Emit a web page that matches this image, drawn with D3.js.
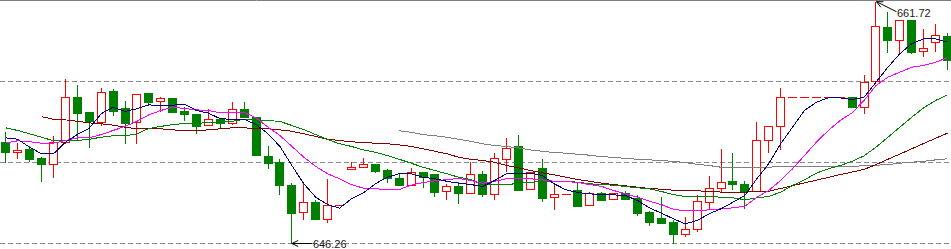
<!DOCTYPE html>
<html>
<head>
<meta charset="utf-8">
<script src="https://cdn.jsdelivr.net/npm/d3@7/dist/d3.min.js"></script>
<style>
  html, body { margin: 0; padding: 0; background: #fff; }
  svg { display: block; }
  .lbl { font-family: "Liberation Sans", Arial, sans-serif; font-size: 11px; fill: #1a1a1a; }
</style>
</head>
<body>
<svg id="chart" width="951" height="249"></svg>
<script>
// candle values (one entry per bar, left to right)
const opens = [652.74,652.08,652.29,651.74,651.32,652.72,655.62,654.66,654.04,656.01,
  654.90,654.00,655.88,655.35,655.56,654.73,654.53,653.81,654.19,653.94,
  654.83,654.32,651.85,651.44,649.99,648.28,648.88,647.80,648.69,651.00,
  651.12,651.32,650.95,650.44,650.01,650.80,650.70,649.59,649.93,649.46,
  650.70,649.43,651.64,652.49,649.72,651.08,649.20,649.40,649.67,648.69,
  649.48,649.08,649.46,649.16,648.24,647.88,647.60,646.87,647.16,648.92,
  649.78,650.25,650.05,649.63,652.85,653.75,655.60,655.60,655.60,655.60,
  655.60,655.60,654.96,656.66,660.10,659.25,660.53,658.55,659.12,659.53];
const highs = [653.38,652.66,652.47,651.80,653.13,656.77,656.39,654.66,656.20,656.13,
  655.35,655.79,655.88,655.62,655.56,654.98,654.53,654.85,654.19,655.28,
  655.28,654.32,652.47,651.65,650.14,650.10,649.03,650.36,648.69,651.46,
  651.72,651.32,651.03,650.70,651.08,650.80,650.70,650.05,650.16,651.44,
  650.89,652.02,653.00,653.19,650.84,651.65,650.05,649.40,650.10,649.54,
  649.54,649.46,649.61,649.33,648.35,649.22,647.77,647.92,649.35,650.57,
  652.29,652.04,650.25,654.02,653.75,656.22,655.60,655.60,655.60,655.60,
  655.60,655.60,657.01,661.72,661.06,660.53,660.53,659.97,660.27,659.74];
const lows = [651.46,651.74,651.55,650.27,650.52,652.66,652.87,652.44,653.85,654.47,
  652.70,652.66,655.17,654.75,654.68,654.15,653.30,653.81,653.66,653.87,
  654.32,651.93,651.06,649.43,646.26,647.83,647.83,647.64,648.69,651.00,
  651.12,650.82,650.20,650.01,650.01,649.84,649.31,649.08,648.82,649.46,
  649.31,649.11,650.87,649.69,649.72,648.99,648.47,649.40,648.67,648.69,
  649.05,649.08,649.11,648.09,647.45,647.56,646.30,646.73,647.07,648.54,
  649.63,649.75,648.50,649.63,652.12,652.28,655.60,655.60,655.60,655.60,
  655.60,654.96,654.62,656.66,658.48,658.52,658.46,658.23,658.58,657.43];
const closes = [652.12,652.23,651.67,651.35,652.72,655.60,654.62,654.09,655.92,654.75,
  653.98,655.79,655.32,655.54,654.68,654.55,653.79,654.19,653.94,654.83,
  654.32,651.93,651.38,650.01,648.22,648.88,647.83,648.69,648.69,651.14,
  651.32,650.91,650.42,650.01,650.80,650.48,649.56,649.91,649.46,650.68,
  649.43,651.70,652.34,649.69,650.84,649.18,649.40,649.40,648.67,649.46,
  649.05,649.46,649.11,648.22,647.62,647.56,646.87,647.16,648.95,649.78,
  650.16,650.07,649.63,652.85,653.75,655.60,655.60,655.60,655.60,655.60,
  655.60,654.96,656.56,660.15,659.29,660.53,658.52,658.74,659.59,658.01];

// moving average lines (null = not drawn)
const maNavy = [653.04,652.95,652.44,652.02,652.02,652.76,653.25,653.66,654.58,655.00,
  654.73,654.90,655.15,655.11,655.13,655.19,654.79,654.62,654.26,654.23,
  654.23,653.89,653.30,652.49,651.27,650.10,649.24,648.77,648.54,649.14,
  649.52,650.10,650.52,650.74,650.74,650.52,650.42,650.26,650.14,650.05,
  649.93,650.31,650.74,650.74,650.78,650.63,650.10,649.71,649.54,649.46,
  649.39,649.39,649.35,649.03,648.56,648.22,647.86,647.54,647.75,648.18,
  648.50,648.92,649.35,650.42,651.38,652.66,653.72,654.79,655.32,655.60,
  655.60,655.49,655.64,656.60,657.56,658.42,659.06,659.38,659.38,659.16];
const maMagenta = [652.72,652.85,652.79,652.70,652.70,652.87,653.04,653.04,653.25,653.51,
  653.77,654.10,654.51,654.79,655.00,654.92,654.83,654.79,654.64,654.66,
  654.66,654.32,653.72,653.19,652.49,651.80,651.21,650.74,650.42,650.05,
  649.82,649.78,649.73,649.73,650.01,650.18,650.29,650.37,650.44,650.31,
  650.14,650.26,650.42,650.42,650.42,650.35,650.26,650.25,650.18,650.05,
  649.93,649.67,649.46,649.24,648.98,648.77,648.47,648.37,648.39,648.43,
  648.50,648.56,648.66,649.24,649.67,650.31,651.06,651.91,652.76,653.51,
  654.15,654.64,655.43,656.39,656.92,657.24,657.56,657.67,657.88,658.16];
const maGreen = [653.68,653.51,653.30,653.08,652.85,652.85,652.87,652.95,653.08,653.17,
  653.17,653.30,653.64,653.77,653.89,653.96,653.96,654.02,654.02,654.10,
  654.23,654.19,654.15,654.09,653.83,653.57,653.25,652.93,652.66,652.49,
  652.27,652.12,651.91,651.67,651.42,651.16,650.95,650.74,650.52,650.37,
  650.05,650.03,650.03,650.14,650.18,650.26,650.26,650.26,650.20,650.10,
  650.05,650.01,649.93,649.84,649.78,649.61,649.41,649.29,649.29,649.29,
  649.24,649.20,649.07,649.20,649.29,649.56,649.99,650.35,650.78,651.06,
  651.27,651.54,651.89,652.44,653.08,653.72,654.36,654.96,655.43,655.79];
const maMaroon = [null,null,null,654.39,654.23,654.19,654.10,654.00,653.94,653.85,
  653.72,653.62,653.64,653.62,653.55,653.51,653.51,653.55,653.62,653.68,
  653.68,653.64,653.62,653.55,653.46,653.30,653.13,652.95,652.87,652.79,
  652.74,652.70,652.66,652.59,652.49,652.34,652.18,652.02,651.80,651.67,
  651.59,651.48,651.27,651.12,650.95,650.80,650.67,650.52,650.37,650.26,
  650.14,650.05,649.97,649.88,649.80,649.75,649.69,649.65,649.65,649.61,
  649.57,649.52,649.56,649.62,649.62,649.80,649.98,650.16,650.33,650.51,
  650.69,650.85,651.02,651.33,651.67,652.00,652.34,652.68,653.01,653.34];
const maGray = [null,null,null,null,null,null,null,null,null,null,
  null,null,null,null,null,null,null,null,null,null,
  null,null,null,null,null,null,null,null,null,null,
  null,null,null,653.49,653.40,653.25,653.17,653.08,652.95,652.82,
  652.66,652.55,652.49,652.40,652.27,652.18,652.10,652.06,651.99,651.93,
  651.83,651.80,651.72,651.67,651.63,651.59,651.53,651.46,651.35,651.27,
  651.16,651.16,651.16,651.16,651.16,651.21,651.21,651.21,651.21,651.21,
  651.22,651.22,651.25,651.29,651.33,651.42,651.48,651.54,651.63,651.70];

// horizontal dotted grid levels
const gridLevels = [656.62, 651.44, 646.26];
// price labels: bar index, price
const highMark = {i: 73, v: 661.72};
const lowMark = {i: 24, v: 646.26};

const W = 951, H = 249;
const svg = d3.select("#chart");

const x = d3.scalePoint()
    .domain(d3.range(opens.length))
    .range([5.3, 947]);
const y = d3.scaleLinear()
    .domain([646.26, 661.72])
    .range([243.3, 1.7]);

const px = v => Math.round(x(v));
const py = v => Math.round(y(v));

// grid
svg.append("g")
    .selectAll("line")
    .data(gridLevels)
    .join("line")
    .attr("x1", 0).attr("x2", W)
    .attr("y1", d => py(d) + 0.5).attr("y2", d => py(d) + 0.5)
    .attr("stroke", "#888")
    .attr("stroke-dasharray", "5,3");

svg.append("line")
    .attr("x1", 0).attr("x2", W)
    .attr("y1", 0.5).attr("y2", 0.5)
    .attr("stroke", "#808080");

// candles
const bars = d3.range(opens.length).map(i => ({
    i, o: opens[i], h: highs[i], l: lows[i], c: closes[i]
}));

const candle = svg.append("g")
    .selectAll("g")
    .data(bars)
    .join("g")
    .attr("shape-rendering", "crispEdges");

candle.each(function(d) {
    const g = d3.select(this);
    const cx = px(d.i);
    const up = d.c >= d.o;
    const col = up ? "#ff0000" : "#008000";
    const top = py(Math.max(d.o, d.c));
    const bot = py(Math.min(d.o, d.c));

    if (d.h === d.l) {
        // no range at all -> flat dash
        g.append("line")
            .attr("x1", cx - 4).attr("x2", cx + 5)
            .attr("y1", top + 0.5).attr("y2", top + 0.5)
            .attr("stroke", col);
        return;
    }
    g.append("line")
        .attr("x1", cx + 0.5).attr("x2", cx + 0.5)
        .attr("y1", py(d.h)).attr("y2", py(d.l) + 1)
        .attr("stroke", col);
    if (up) {
        g.append("rect")
            .attr("x", cx - 3.5).attr("y", top + 0.5)
            .attr("width", 8).attr("height", Math.max(bot - top, 1))
            .attr("fill", "#fff")
            .attr("stroke", col);
    } else {
        g.append("rect")
            .attr("x", cx - 4).attr("y", top)
            .attr("width", 9).attr("height", Math.max(bot - top + 1, 1))
            .attr("fill", col);
    }
});

// moving averages
const maLines = [
    {vals: maGray, color: "#808080"},
    {vals: maMaroon, color: "#800000"},
    {vals: maGreen, color: "#008000"},
    {vals: maMagenta, color: "#ff00ff"},
    {vals: maNavy, color: "#000080"}
];

const line = d3.line()
    .defined(d => d.v !== null)
    .x(d => x(d.i) + 0.5)
    .y(d => y(d.v) + 0.5);

svg.append("g")
    .attr("shape-rendering", "crispEdges")
    .selectAll("path")
    .data(maLines)
    .join("path")
    .attr("d", d => line(d.vals.map((v, i) => ({i, v}))))
    .attr("fill", "none")
    .attr("stroke", d => d.color)
    .attr("stroke-width", 1);

// price markers with arrows
function arrowHead(g, tx, ty, fx, fy) {
    const a = Math.atan2(fy - ty, fx - tx);
    const len = 7, spread = 0.45;
    [a - spread, a + spread].forEach(b => {
        g.append("line")
            .attr("x1", tx).attr("y1", ty)
            .attr("x2", tx + len * Math.cos(b)).attr("y2", ty + len * Math.sin(b))
            .attr("stroke", "#000");
    });
}

const marks = svg.append("g");

// high
{
    const tx = x(highMark.i) + 1, ty = y(highMark.v);
    const ex = tx + 20, ey = ty + 10;
    marks.append("line")
        .attr("x1", tx).attr("y1", ty).attr("x2", ex).attr("y2", ey)
        .attr("stroke", "#000");
    arrowHead(marks, tx, ty, ex, ey);
    marks.append("text")
        .attr("class", "lbl")
        .attr("x", ex + 0.5).attr("y", ey + 5)
        .text(highMark.v.toFixed(2));
}
// low
{
    const tx = x(lowMark.i) + 0.5, ty = py(lowMark.v) + 0.5;
    const ex = tx + 20;
    marks.append("line")
        .attr("x1", tx).attr("y1", ty).attr("x2", ex).attr("y2", ty)
        .attr("stroke", "#000");
    arrowHead(marks, tx, ty, ex, ty);
    marks.append("text")
        .attr("class", "lbl")
        .attr("x", ex + 1).attr("y", ty + 4.5)
        .text(lowMark.v.toFixed(2));
}
</script>
</body>
</html>
